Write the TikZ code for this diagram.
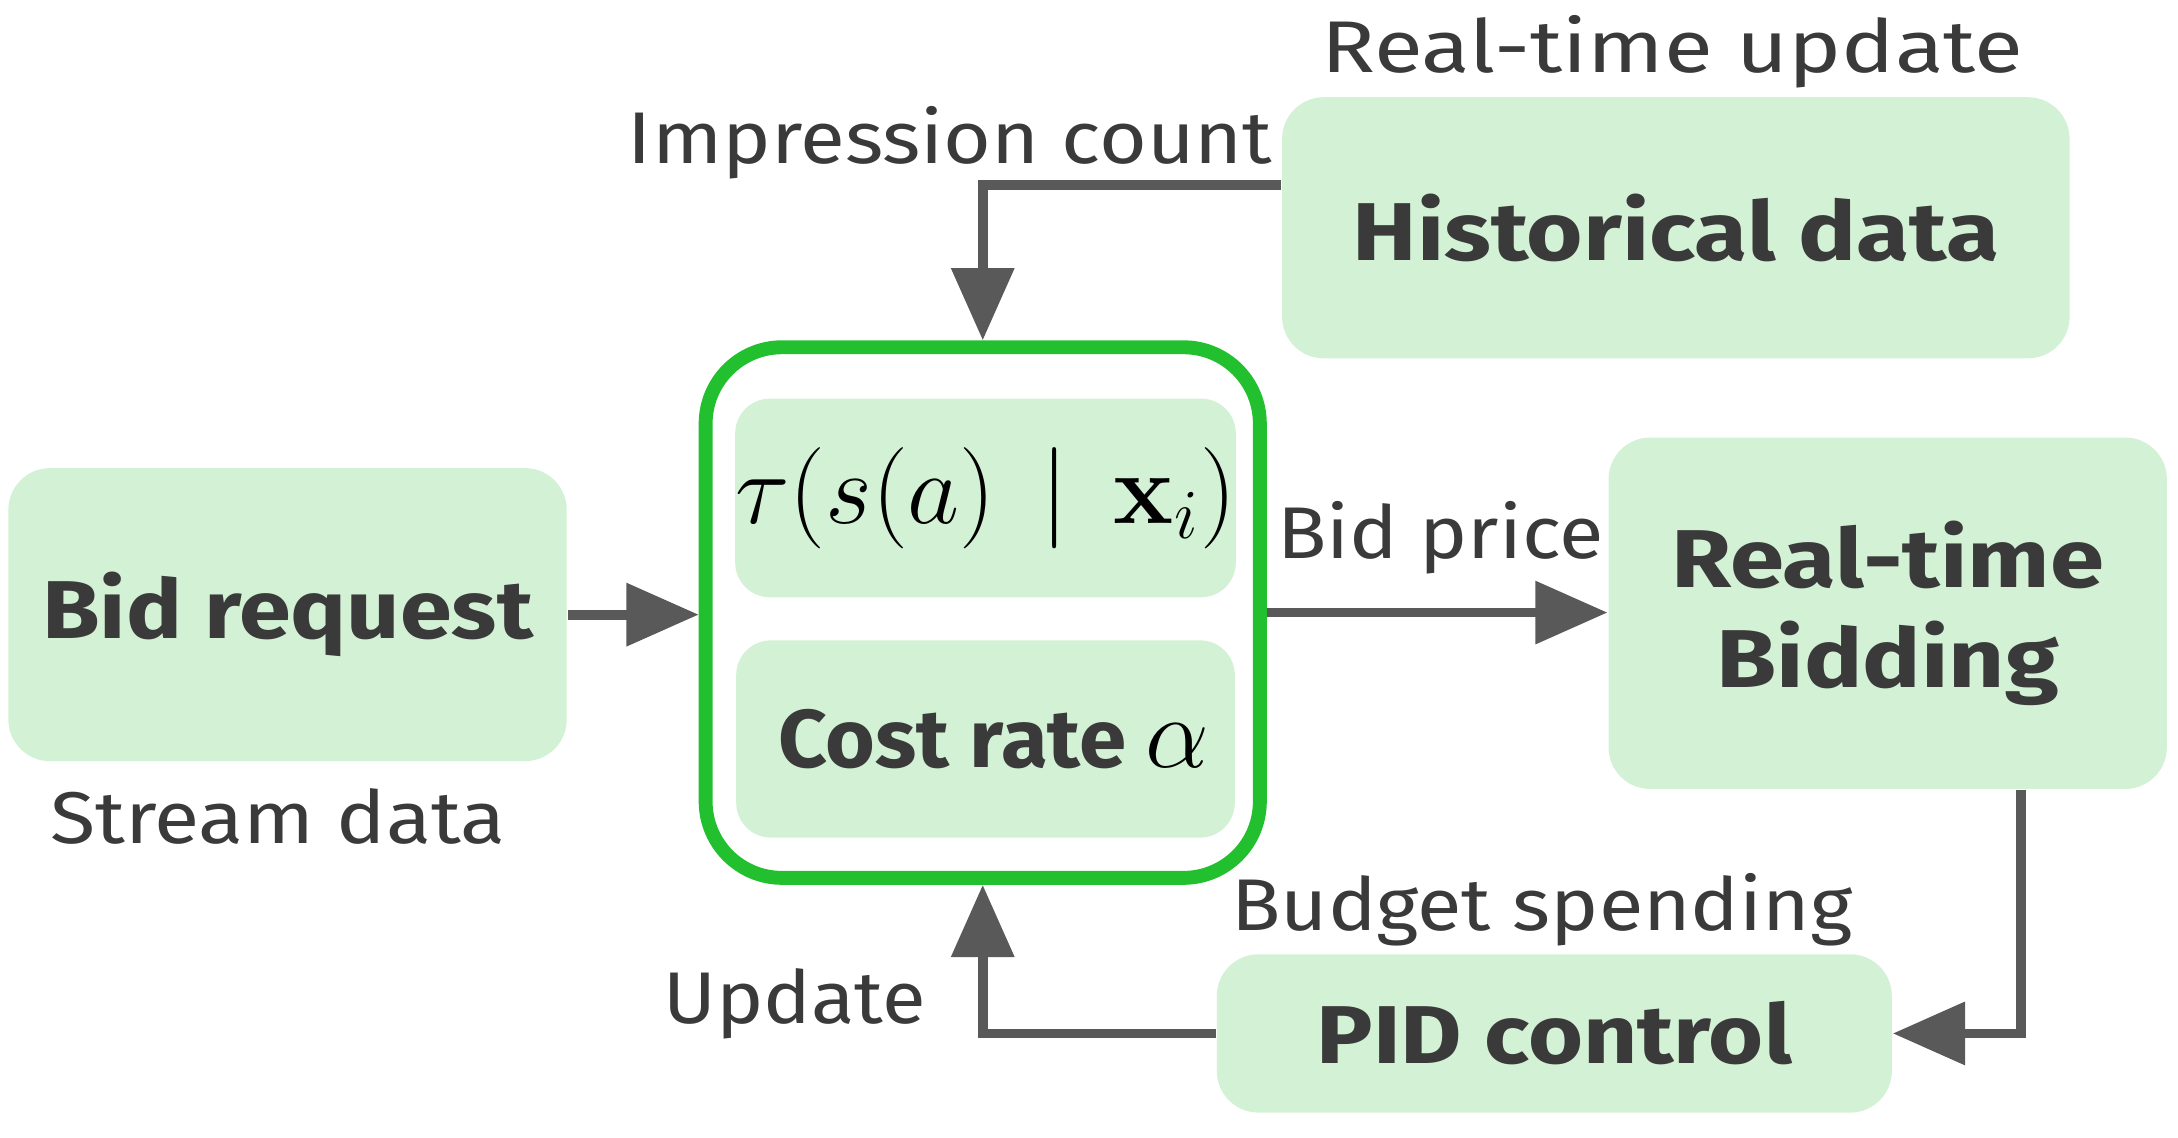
\documentclass[tikz,border=0pt]{standalone}
\usepackage[no-math]{fontspec}
\setmainfont{Fira Sans}
\usepackage{amsmath}
\usepackage{graphicx}
\usetikzlibrary{arrows.meta}
\definecolor{boxfill}{HTML}{D3F1D5}
\definecolor{txt}{HTML}{3A3A3A}
\definecolor{grn}{HTML}{22BF2E}
\definecolor{arr}{HTML}{595959}
\newcommand\hs[2]{\scalebox{#1}[1]{#2}}
\begin{document}
\begin{tikzpicture}[x=0.1mm,y=-0.1mm,
  box/.style={fill=boxfill, rounded corners=3mm, draw=none, inner sep=0pt, text=txt,
    font=\fontsize{16.8}{20.5}\selectfont\bfseries, align=center},
  lbl/.style={text=txt, font=\fontsize{15}{18}\selectfont, inner sep=0pt, anchor=base},
  conn/.style={draw=arr, line width=0.7mm, -{Triangle[length=5.2mm,width=4.4mm]}},
]
\useasboundingbox (0,0) rectangle (1568,819);
\node[box, minimum width=40.2mm, minimum height=21.1mm] (bid) at (207,442.5) {\hs{1.14}{Bid request}};
\node[box, minimum width=56.7mm, minimum height=18.8mm] (hist) at (1206.5,164) {\hs{1.18}{Historical data}};
\node[box, minimum width=40.2mm, minimum height=25.3mm] (rtb) at (1359,441.5) {\hs{1.19}{Real-time}\\\hs{1.19}{Bidding}};
\node[box, minimum width=48.6mm, minimum height=11.4mm] (pid) at (1119,744) {\hs{1.15}{PID control}};
\node[draw=grn, line width=1mm, rounded corners=5.5mm, minimum width=39.9mm, minimum height=38.2mm, inner sep=0pt] (core) at (707.5,441) {};
\node[box, rounded corners=2.5mm, minimum width=35.9mm, minimum height=14.3mm, text=black] (tau) at (709.5,358.5)
  {\fontsize{21}{25}\selectfont$\tau(s(a)\,\mid\,\mathbf{x}_i)$};
\node[box, rounded corners=2.5mm, minimum width=35.9mm, minimum height=14.2mm] (cost) at (709.5,532)
  {\hspace*{1.2mm}\hs{1.04}{Cost rate} \textcolor{black}{\fontsize{20}{24}\selectfont$\alpha$}};

\draw[conn] (bid.east) -- (bid.east -| core.west);
\draw[conn] ([yshift=3.1mm]hist.west) -| (core.north);
\draw[conn] (core.east) -- (core.east -| rtb.west);
\draw[conn] ([xshift=9.6mm]rtb.south) |- (pid.east);
\draw[conn] (pid.west) -| (core.south);

\node[lbl] (l1) at (200,607) {\hs{1.13}{Stream data}};
\node[lbl] (l2) at (1204,52) {\hs{1.22}{Real-time update}};
\node[lbl] (l3) at (684,118) {\hs{1.12}{Impression count}};
\node[lbl] (l4) at (1037,402) {\hs{1.11}{Bid price}};
\node[lbl] (l5) at (1110,670) {\hs{1.11}{Budget spending}};
\node[lbl] (l6) at (572,737) {\hs{1.09}{Update}};
\end{tikzpicture}
\end{document}
